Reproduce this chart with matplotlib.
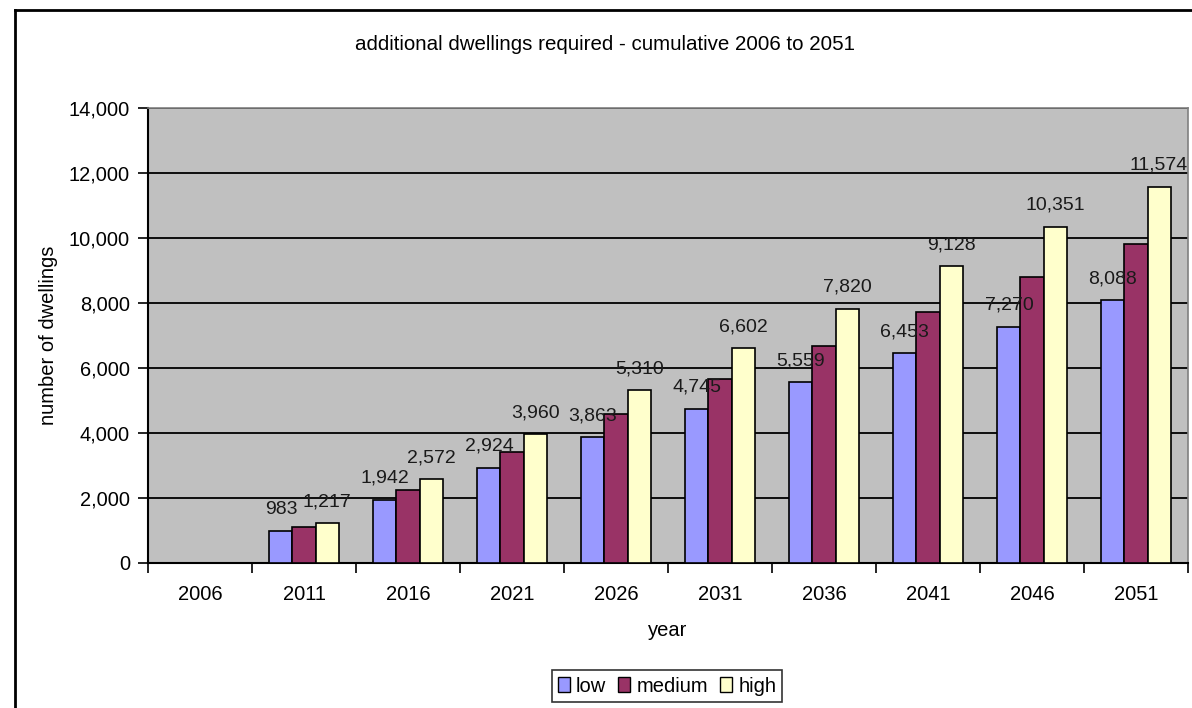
import matplotlib
matplotlib.use("Agg")
import matplotlib.pyplot as plt
from matplotlib.lines import Line2D
from matplotlib.patches import Patch
from matplotlib.ticker import FuncFormatter, MultipleLocator
import numpy as np

years = ["2006", "2011", "2016", "2021", "2026", "2031", "2036", "2041", "2046", "2051"]
low = [0, 983, 1942, 2924, 3863, 4745, 5559, 6453, 7270, 8088]
medium = [0, 1100, 2260, 3410, 4585, 5660, 6680, 7720, 8790, 9810]
high = [0, 1217, 2572, 3960, 5310, 6602, 7820, 9128, 10351, 11574]
series_names = ["low", "medium", "high"]
colors = ["#9999FF", "#993366", "#FFFFCC"]

plt.rcParams['font.family'] = ['Liberation Sans', 'DejaVu Sans']

W, H = 1192, 708
fig = plt.figure(figsize=(W / 100, H / 100), dpi=100)
fig.patch.set_facecolor("white")

# plot area in pixels
L, R, T, B = 148, 1188, 108, 563
ax = fig.add_axes([L / W, 1 - B / H, (R - L) / W, (B - T) / H])
ax.set_facecolor("#C0C0C0")

x = np.arange(len(years))
bw = 1 / 4.5
for i, (vals, c, name) in enumerate(zip([low, medium, high], colors, series_names)):
    pos = x + (i - 1) * bw
    ax.bar(pos, vals, width=bw, color=c, edgecolor="black", linewidth=1.2, zorder=3, label=name)
    if name in ("low", "high"):
        for px, v in zip(pos, vals):
            if v > 0:
                ax.annotate(f"{v:,}", (px, v), xytext=(0, 13), textcoords="offset pixels",
                            ha="center", va="bottom", fontsize=14, color="#1a1a1a", zorder=5)

ax.set_xlim(-0.5, len(years) - 0.5)
ax.set_ylim(0, 14000)
ax.yaxis.set_major_locator(MultipleLocator(2000))
ax.yaxis.set_major_formatter(FuncFormatter(lambda v, p: f"{int(v):,}"))
ax.grid(axis="y", color="black", linewidth=1.3, zorder=1)
ax.set_axisbelow(True)

ax.set_xticks(x)
ax.set_xticklabels(years, fontsize=14.5)
ax.set_xticks(np.arange(len(years) + 1) - 0.5, minor=True)
ax.tick_params(axis="x", which="major", length=0, pad=16)
ax.tick_params(axis="x", which="minor", length=7, width=1.2, direction="out")
ax.tick_params(axis="y", length=7, width=1.2, direction="out", labelsize=14.4, pad=6)

for s in ("left", "bottom"):
    ax.spines[s].set_color("black")
    ax.spines[s].set_linewidth(1.5)
for s in ("top", "right"):
    ax.spines[s].set_color("#808080")
    ax.spines[s].set_linewidth(1.2)

ax.set_xlabel("year", fontsize=14.5, labelpad=12)
ax.set_ylabel("number of dwellings", fontsize=14.5, labelpad=8)

fig.text(605 / W, 1 - 45 / H, "additional dwellings required - cumulative 2006 to 2051",
         ha="center", va="center", fontsize=14.8)

handles = [Patch(facecolor=c, edgecolor="black", label=n) for c, n in zip(colors, series_names)]
leg = fig.legend(handles=handles, loc="center", bbox_to_anchor=(667 / W, 1 - 686 / H),
                 ncol=3, fontsize=14.5, frameon=True, fancybox=False, edgecolor="black",
                 handlelength=0.6, handleheight=0.7, handletextpad=0.3, columnspacing=0.6,
                 borderpad=0.3)
leg.get_frame().set_linewidth(1.2)

# outer chart border (partially visible)
fig.add_artist(Line2D([15 / W, 15 / W], [0, 1 - 10 / H], color="black", linewidth=2))
fig.add_artist(Line2D([15 / W, 1], [1 - 10 / H, 1 - 10 / H], color="black", linewidth=2))

fig.savefig("out.png", dpi=100)
